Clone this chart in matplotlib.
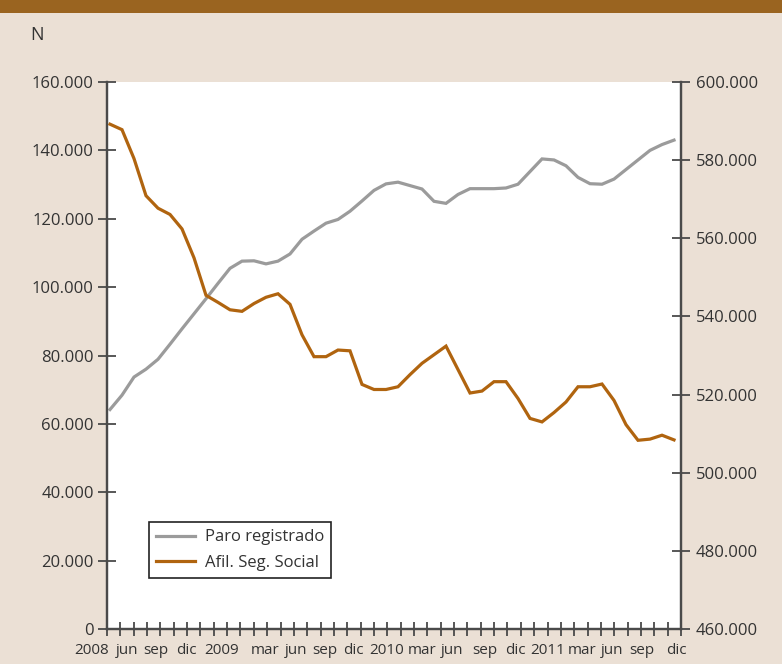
import numpy as np
import matplotlib
matplotlib.use("Agg")
import matplotlib.pyplot as plt
from matplotlib.patches import Rectangle
from matplotlib.lines import Line2D
import matplotlib.transforms as mtransforms

plt.rcParams['font.family'] = ['Open Sans', 'DejaVu Sans']

# ---- data (monthly, Jan 2008 - Dec 2011) ----
paro = [64200, 68400, 73700, 76000, 78900, 83300, 87800, 92200, 96600, 101100,
        105500, 107600, 107700, 106800, 107600, 109700, 114000, 116400, 118700, 119800,
        122200, 125200, 128300, 130200, 130700, 129700, 128700, 125100, 124500, 127100,
        128800, 128800, 128800, 129000, 130100, 133800, 137500, 137200, 135500, 132100,
        130250, 130100, 131600, 134400, 137200, 140000, 141700, 143000]
afil = [589200, 587800, 580400, 570900, 567700, 566100, 562400, 555000, 545400, 543600,
        541700, 541300, 543300, 544900, 545800, 543100, 535300, 529700, 529700, 531400,
        531200, 522600, 521300, 521300, 522000, 525100, 528000, 530200, 532400, 526400,
        520400, 520900, 523300, 523300, 519000, 513900, 513000, 515400, 518100, 522000,
        522000, 522700, 518500, 512300, 508300, 508600, 509600, 508400]
x_labels = ["2008", "jun", "sep", "dic", "2009", "mar", "jun", "sep", "dic", "2010",
            "mar", "jun", "sep", "dic", "2011", "mar", "jun", "sep", "dic"]
series_names = ["Paro registrado", "Afil. Seg. Social"]
left_ticks = list(range(0, 160001, 20000))
right_ticks = list(range(460000, 600001, 20000))

# ---- layout ----
label_pos = [-1.5, 1.42, 3.83, 6.33, 9.33, 12.92, 15.5, 17.92, 20.25, 23.08,
             26.0, 28.5, 31.25, 33.75, 36.5, 39.33, 41.83, 44.33, 47.17]
BG = "#EBE0D5"
BROWN = "#9A6420"
GRAY = "#9B9B9B"
ORANGE = "#B0640F"
AXC = "#4A4A4A"
TXT = "#333333"
FS = 12

fig = plt.figure(figsize=(7.82, 6.64), dpi=100, facecolor=BG)
fig.patches.append(Rectangle((0, 1 - 13 / 664), 1, 13 / 664, transform=fig.transFigure,
                             facecolor=BROWN, edgecolor="none", zorder=0))

ax = fig.add_axes([107 / 782, 1 - 629 / 664, 574 / 782, 547 / 664])
ax.set_facecolor("white")
ax2 = ax.twinx()

x = np.arange(len(paro))
ax.plot(x, paro, color=GRAY, lw=2.3, solid_joinstyle="miter", zorder=3)
ax2.plot(x, afil, color=ORANGE, lw=2.3, solid_joinstyle="miter", zorder=3)

xmin, xmax = -0.25, 47.583
ax.set_xlim(xmin, xmax)
ax.set_ylim(0, 160000)
ax2.set_ylim(460000, 600000)

fmt = lambda v: f"{int(v):,}".replace(",", ".")
ax.set_yticks(left_ticks)
ax.set_yticklabels([fmt(v) for v in left_ticks])
ax2.set_yticks(right_ticks)
ax2.set_yticklabels([fmt(v) for v in right_ticks])

ax.set_xticks(np.linspace(xmin, xmax, 44))
ax.set_xticklabels([])
ax.tick_params(axis="x", direction="inout", length=10, width=1.3, color=AXC)
ax.tick_params(axis="y", direction="inout", length=13, width=1.3, color=AXC,
               labelsize=FS, labelcolor=TXT, pad=3)
ax2.tick_params(axis="y", direction="inout", length=13, width=1.3, color=AXC,
                labelsize=FS, labelcolor=TXT, pad=4)

for a in (ax, ax2):
    a.spines["top"].set_visible(False)
    for s in ("left", "right", "bottom"):
        a.spines[s].set_color(AXC)
        a.spines[s].set_linewidth(1.6)

trans = mtransforms.blended_transform_factory(ax.transData, ax.transAxes)
for pos, lab in zip(label_pos, x_labels):
    ax.text(pos, -0.026, lab, transform=trans, ha="center", va="top",
            fontsize=11, color=TXT, clip_on=False)

fig.text(37 / 782, 1 - 35 / 664, "N", ha="center", va="center", fontsize=13, color=TXT)

handles = [Line2D([], [], color=GRAY, lw=2.3), Line2D([], [], color=ORANGE, lw=2.3)]
leg = ax2.legend(handles, series_names, loc="lower left", bbox_to_anchor=(0.073, 0.093),
                 frameon=True, fancybox=False, edgecolor="#222222", framealpha=1,
                 fontsize=FS, handlelength=2.3, handletextpad=0.6, borderpad=0.45,
                 labelspacing=0.55, borderaxespad=0)
leg.get_frame().set_linewidth(1.2)
for t in leg.get_texts():
    t.set_color(TXT)

fig.savefig("out.png", dpi=100, facecolor=BG)
